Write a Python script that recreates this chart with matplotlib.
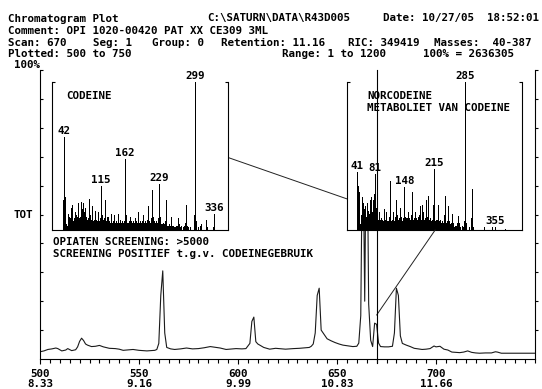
import matplotlib
matplotlib.use('Agg')
import matplotlib.pyplot as plt
from matplotlib.patches import ConnectionPatch
from matplotlib.lines import Line2D
from matplotlib.ticker import MultipleLocator

W, H = 542, 389
FONT = dict(family='DejaVu Sans Mono', weight='bold', size=7.8)

# ---------------- chromatogram (TOT, % of full scale) ----------------
scans = [500, 502, 504, 506, 508, 509, 511, 513, 514, 516, 518, 519, 520, 521, 522, 523, 524,
         526, 528, 530, 532, 535, 538, 540, 542, 545, 547, 550, 554, 558, 559, 560, 561, 562,
         563, 564, 566, 568, 571, 574, 577, 580, 583, 586, 588, 591, 594, 597, 599, 602, 604,
         606, 607, 608, 609, 610, 611, 613, 616, 619, 622, 624, 628, 631, 634, 636, 637, 638,
         639, 640, 641, 642, 643, 644, 645, 647, 649, 651, 653, 656, 658, 660, 661, 662, 663,
         664, 665, 666, 667, 668, 669, 670, 671, 672, 674, 676, 678, 679, 680, 681, 682, 683,
         685, 687, 689, 691, 693, 695, 697, 699, 700, 702, 704, 706, 708, 710, 712, 714, 716,
         718, 720, 722, 725, 728, 730, 731, 733, 736, 740, 745, 750]
tot = [2.5, 2.8, 3.3, 3.5, 3.8, 3.6, 2.8, 3.1, 3.6, 2.9, 3.2, 4.2, 6.1, 7.2, 6.4, 5.2, 4.8,
       4.3, 4.4, 4.7, 4.2, 3.7, 3.6, 3.4, 3.0, 3.2, 3.3, 3.0, 2.8, 3.0, 3.3, 5.4, 22, 30.5,
       9, 4, 3.5, 3.3, 3.5, 3.8, 3.5, 3.6, 3.9, 4.3, 4.1, 3.8, 3.3, 3.5, 3.6, 3.5, 3.6,
       5.4, 13, 14.5, 6, 5.2, 4.8, 4.0, 3.4, 3.7, 3.5, 3.4, 3.6, 3.7, 3.9, 4.0, 4.4, 5.2,
       9, 22, 24.5, 10, 9, 8, 7, 6.3, 5.7, 5.2, 4.8, 4.5, 4.3, 4.4, 5.5, 15, 85,
       20, 95, 19, 6.5, 4.3, 12.4, 12, 5.5, 4.3, 4.2, 4.2, 4.4, 9, 24.5, 22, 8, 5.4,
       4.8, 4.3, 3.7, 3.5, 3.3, 3.4, 3.6, 4.5, 4.2, 4.4, 3.4, 3.1, 2.4, 2.3, 2.2, 2.4, 2.8,
       2.3, 2.1, 2.0, 2.1, 2.1, 2.5, 2.4, 2.0, 2.0, 2.0, 2.0, 2.0]
xtick_scans = [500, 550, 600, 650, 700]
xtick_times = ['8.33', '9.16', '9.99', '10.83', '11.66']
cursor_scan = 670
codeine_scan = 663

# ---------------- mass spectrum 1: CODEINE ----------------
cod_dense = [0, 20, 63, 33, 22, 8, 4, 3, 2, 5,
             11, 9, 6, 8, 5, 15, 7, 17, 9, 6,
             5, 8, 4, 12, 7, 10, 5, 9, 6, 13,
             18, 8, 6, 5, 9, 7, 19, 14, 8, 6,
             18, 12, 7, 15, 6, 9, 5, 7, 5, 8,
             6, 21, 9, 6, 10, 5, 7, 8, 16, 6,
             7, 5, 13, 8, 5, 7, 4, 6, 5, 12,
             6, 5, 8, 6, 14, 30, 10, 6, 5, 7,
             6, 8, 20, 8, 5, 6, 4, 9, 9, 5,
             4, 6, 5, 4, 6, 11, 5, 4, 6, 5,
             4, 10, 5, 4, 5, 6, 4, 5, 11, 5,
             4, 5, 7, 4, 5, 6, 4, 5, 4, 6,
             5, 7, 48, 10, 6, 5, 4, 5, 4, 6,
             5, 9, 5, 4, 6, 4, 5, 4, 6, 4,
             5, 8, 5, 4, 6, 4, 5, 12, 6, 4,
             5, 4, 6, 4, 5, 4, 6, 10, 5, 4,
             5, 4, 6, 4, 5, 7, 5, 16, 6, 4,
             5, 4, 8, 5, 10, 27, 9, 5, 4, 6,
             5, 4, 6, 4, 5, 4, 6, 8, 10, 31,
             9, 5, 4, 3, 4, 3, 5, 3, 4, 3,
             4, 6, 20, 6, 3, 2, 3, 2, 4, 2,
             3, 2, 4, 9, 3, 2, 2, 3, 2, 2,
             2, 3, 2, 2, 3, 5, 8, 4, 2, 2]
cod_sparse_mz = [272, 275, 278, 280, 281, 282, 284, 286, 290, 297, 298, 299, 300, 301, 302,
                 305, 310, 311, 321, 322, 334, 336, 337]
cod_sparse_int = [3, 2, 3, 5, 17, 5, 3, 2, 2, 3, 10, 100, 24, 6, 2,
                  2, 3, 4, 7, 2, 2, 11, 3]
cod_mz = list(range(40, 40 + len(cod_dense))) + cod_sparse_mz
cod_int = cod_dense + cod_sparse_int
cod_labels = [42, 115, 162, 229, 299, 336]

# ---------------- mass spectrum 2: NORCODEINE ----------------
nor_dense = [2, 39, 30, 25, 26, 10, 5, 4, 3, 6,
             10, 14, 22, 12, 9, 18, 10, 14, 16, 8,
             7, 9, 6, 12, 18, 13, 8, 11, 9, 20,
             14, 9, 22, 10, 8, 12, 9, 20, 15, 10,
             24, 38, 22, 15, 7, 6, 5, 6, 4, 7,
             6, 12, 7, 5, 8, 6, 5, 7, 6, 5,
             6, 5, 14, 7, 5, 6, 5, 12, 6, 5,
             6, 5, 7, 6, 9, 33, 10, 6, 5, 7,
             6, 7, 12, 8, 5, 6, 5, 9, 14, 8,
             20, 10, 6, 7, 5, 8, 6, 9, 15, 7,
             6, 9, 6, 5, 7, 6, 8, 10, 29, 9,
             6, 7, 8, 6, 7, 8, 6, 12, 7, 8,
             6, 7, 8, 9, 10, 26, 8, 6, 7, 6,
             8, 7, 12, 6, 7, 8, 6, 7, 9, 6,
             7, 8, 10, 16, 8, 6, 7, 17, 6, 7,
             6, 12, 6, 7, 5, 8, 20, 7, 6, 8,
             9, 23, 8, 6, 5, 7, 5, 8, 6, 5,
             6, 7, 9, 12, 17, 41.5, 12, 6, 5, 7,
             5, 6, 5, 7, 9, 17, 6, 5, 7, 5,
             6, 4, 5, 6, 4, 5, 4, 6, 9, 10,
             23, 9, 5, 4, 6, 4, 5, 9, 16, 6,
             4, 3, 4, 3, 5, 4, 6, 11, 5, 3,
             2, 2, 3, 2, 2, 3, 2, 3, 5, 4,
             9.5, 5, 3]
nor_sparse_mz = [275, 278, 282, 284, 285, 286, 287, 288, 295, 299, 300, 301, 302, 303,
                 328, 347, 355, 376]
nor_sparse_int = [2, 3, 2, 6, 100, 25, 5, 2, 2, 3, 8, 28, 6, 2,
                  2, 2, 2, 1]
nor_mz = list(range(40, 40 + len(nor_dense))) + nor_sparse_mz
nor_int = nor_dense + nor_sparse_int
nor_labels = [41, 81, 148, 215, 285, 355]

# ---------------- figure ----------------
fig = plt.figure(figsize=(W / 100, H / 100), dpi=100)
fig.patch.set_facecolor('white')


def put(x, y, s):
    fig.text(x / W, 1 - (y + 4) / H, s, ha='left', va='baseline', **FONT)


ax = fig.add_axes([40 / W, 1 - 359 / H, 495 / W, 289 / H])
ax.plot(scans, tot, color='#1a1a1a', lw=0.8)
ax.set_xlim(500, 750)
ax.set_ylim(0, 100)
ax.spines['top'].set_visible(False)
ax.spines['right'].set_visible(False)
for s in ['left', 'bottom']:
    ax.spines[s].set_linewidth(0.8)
ax.set_xticks(xtick_scans, labels=[f'{s}\n{t}' for s, t in zip(xtick_scans, xtick_times)])
ax.xaxis.set_minor_locator(MultipleLocator(5))
ax.tick_params(axis='x', which='major', direction='out', length=3.8, width=0.8, pad=3.2)
ax.tick_params(axis='x', which='minor', direction='out', length=2.9, width=0.8)
for lab in ax.get_xticklabels():
    lab.set_fontproperties(matplotlib.font_manager.FontProperties(**FONT))
    lab.set_linespacing(1.0)
ax.set_yticks(range(10, 101, 10))
ax.tick_params(axis='y', direction='in', length=2.4, width=0.8, labelleft=False)

sec = ax.secondary_yaxis('right')
sec.set_yticks(range(10, 101, 10))
sec.tick_params(direction='out', length=2.4, width=0.8, labelright=False)
sec.spines['right'].set_linewidth(0.8)


def spectrum_axes(left, width, mz, inten, xlim, labels):
    a = fig.add_axes([left / W, 1 - 230 / H, width / W, 148 / H])
    a.set_facecolor('white')
    a.vlines(mz, 0, inten, color='black', lw=0.45, antialiased=False)
    a.set_xlim(*xlim)
    a.set_ylim(0, 100)
    a.spines['top'].set_visible(False)
    for s in ['left', 'right', 'bottom']:
        a.spines[s].set_linewidth(0.8)
    a.set_xticks([])
    a.set_yticks([100])
    a.tick_params(axis='y', direction='in', length=2.2, width=0.8, left=True, right=True,
                  labelleft=False)
    lookup = dict(zip(mz, inten))
    for m in labels:
        a.annotate(str(m), (m, lookup[m]), xytext=(0, 2.2), textcoords='offset points',
                   ha='center', va='baseline', annotation_clip=False, **FONT)
    return a


ax1 = spectrum_axes(52, 176, cod_mz, cod_int, (18.5, 364), cod_labels)

# leader from codeine spectrum to its scan (hidden behind second inset)
con1 = ConnectionPatch(xyA=(1.0, 0.49), coordsA=ax1.transAxes,
                       xyB=(codeine_scan, 53.5), coordsB=ax.transData,
                       color='#222222', lw=0.7)
con1.set_clip_on(False)
ax.add_artist(con1)

ax2 = spectrum_axes(347, 175, nor_mz, nor_int, (17.6, 415.3), nor_labels)

con2 = ConnectionPatch(xyA=(218, 0), coordsA=ax2.transData,
                       xyB=(cursor_scan, 15.2), coordsB=ax.transData,
                       color='#222222', lw=0.7)
fig.add_artist(con2)

cursor = Line2D([cursor_scan, cursor_scan], [-0.014, 1.0], transform=ax.get_xaxis_transform(),
                color='black', lw=0.8, zorder=5)
fig.add_artist(cursor)

# header text
put(7.6, 17.5, 'Chromatogram Plot')
put(207, 17.5, 'C:\\SATURN\\DATA\\R43D005')
put(383, 17.5, 'Date: 10/27/05  18:52:01')
put(7.6, 29.5, 'Comment: OPI 1020-00420 PAT XX CE309 3ML')
for s, x in [('Scan: 670', 7.6), ('Seg: 1', 93), ('Group: 0', 152),
             ('Retention: 11.16', 221), ('RIC: 349419', 348), ('Masses:  40-387', 434)]:
    put(x, 41.5, s)
for s, x in [('Plotted: 500 to 750', 7.6), ('Range: 1 to 1200', 282), ('100% = 2636305', 423)]:
    put(x, 53, s)
put(14, 64.5, '100%')
put(13, 213.5, 'TOT')

put(66.7, 95, 'CODEINE')
put(52.7, 241, 'OPIATEN SCREENING: >5000')
put(52.7, 253, 'SCREENING POSITIEF t.g.v. CODEINEGEBRUIK')
put(367.3, 95, 'NORCODEINE')
put(367.3, 106.7, 'METABOLIET VAN CODEINE')

fig.savefig('out.png', dpi=100, facecolor='white')
